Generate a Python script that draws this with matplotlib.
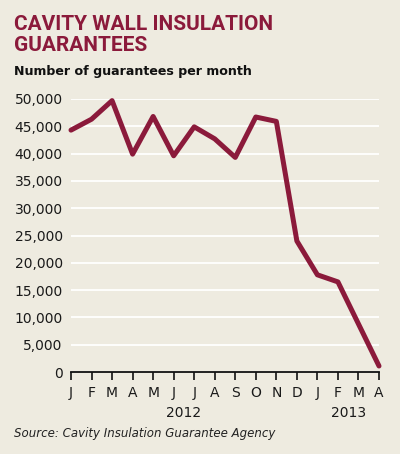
import numpy as np
import matplotlib.pyplot as plt
from matplotlib import transforms

months = ["J", "F", "M", "A", "M", "J", "J", "A", "S", "O", "N", "D", "J", "F", "M", "A"]
guarantees = [44300, 46300, 49700, 39900, 46800, 39600, 44900, 42700, 39300,
              46700, 45900, 24000, 17800, 16500, 8800, 1100]
years = ["2012", "2013"]
year_pos = [5.5, 13.5]
yticks = [0, 5000, 10000, 15000, 20000, 25000, 30000, 35000, 40000, 45000, 50000]

bg = "#eeebe0"
red = "#8b1a3b"

fig = plt.figure(figsize=(4, 4.54), dpi=100, facecolor=bg)
ax = fig.add_axes([71 / 400, (454 - 372) / 454, (379 - 71) / 400, (372 - 99) / 454])
ax.set_facecolor(bg)

x = np.arange(len(months))
ax.plot(x, guarantees, color=red, lw=3.6, solid_capstyle="round", clip_on=False, zorder=3)

ax.set_xlim(0, len(months) - 1)
ax.set_ylim(0, 50000)
ax.set_yticks(yticks)
ax.set_yticklabels([f"{v:,}" for v in yticks])
ax.set_xticks(x)
ax.set_xticklabels(months)

for s in ["top", "right", "left"]:
    ax.spines[s].set_visible(False)
ax.spines["bottom"].set_linewidth(1.3)
ax.spines["bottom"].set_color("#111111")

ax.grid(axis="y", color="white", lw=1.3)
ax.set_axisbelow(True)
ax.tick_params(axis="y", length=0, pad=6, labelsize=10, labelcolor="#1a1a1a")
ax.tick_params(axis="x", length=6, width=1.2, color="#111111", pad=4,
               labelsize=10, labelcolor="#1a1a1a")

trans = transforms.blended_transform_factory(ax.transData, fig.transFigure)
for yr, p in zip(years, year_pos):
    ax.text(p, (454 - 413) / 454, yr, transform=trans, ha="center", va="center",
            fontsize=10, color="#1a1a1a")

fig.text(14 / 400, 1 - 35 / 454, "CAVITY WALL INSULATION\nGUARANTEES", color=red,
         fontsize=15, fontweight="bold", family="Roboto", ha="left", va="center",
         linespacing=1.1)
fig.text(14 / 400, 1 - 71 / 454, "Number of guarantees per month", color="#111111",
         fontsize=9.1, fontweight="bold", family="DejaVu Sans", ha="left", va="center")
fig.text(14 / 400, 1 - 434 / 454, "Source: Cavity Insulation Guarantee Agency",
         color="#222222", fontsize=8.5, style="italic", ha="left", va="center")

fig.savefig("out.png", dpi=100, facecolor=bg)
